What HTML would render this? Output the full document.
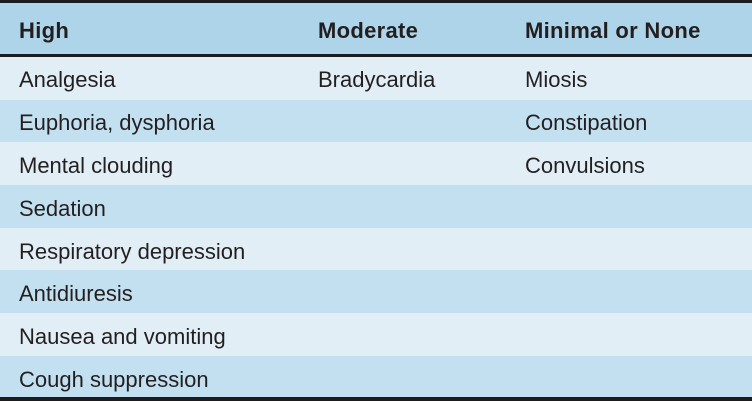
<!DOCTYPE html>
<html><head><style>
body{margin:0;width:752px;height:401px;overflow:hidden;background:#fff;font-family:"Liberation Sans",sans-serif;}
.t{position:absolute;left:0;top:0;width:752px;height:401px;background:#c2e0f0;}
.k{position:absolute;left:0;width:752px;background:#1c1c1e;}
.h{position:absolute;left:0;top:3px;width:752px;height:51px;background:#add4e8;}
.r{position:absolute;left:0;width:752px;height:43px;}
.c{position:absolute;font-size:22px;color:#231f20;white-space:nowrap;}
.hb{font-weight:bold;font-size:22px;letter-spacing:0.3px;}
</style></head><body>
<div class="t">
<div class="k" style="top:0;height:3px"></div>
<div class="h">
<span class="c hb" style="left:19px;top:15px">High</span>
<span class="c hb" style="left:318px;top:15px">Moderate</span>
<span class="c hb" style="left:525px;top:15px">Minimal or None</span>
</div>
<div class="k" style="top:54px;height:3px"></div>
<div class="r" style="top:57px;background:#e1eef6"><span class="c" style="left:19px;top:10px">Analgesia</span><span class="c" style="left:318px;top:10px">Bradycardia</span><span class="c" style="left:525px;top:10px">Miosis</span></div>
<div class="r" style="top:100px;background:#c2e0f0"><span class="c" style="left:19px;top:10px">Euphoria, dysphoria</span><span class="c" style="left:525px;top:10px">Constipation</span></div>
<div class="r" style="top:142px;background:#e1eef6"><span class="c" style="left:19px;top:11px">Mental clouding</span><span class="c" style="left:525px;top:11px">Convulsions</span></div>
<div class="r" style="top:185px;background:#c2e0f0"><span class="c" style="left:19px;top:11px">Sedation</span></div>
<div class="r" style="top:228px;background:#e1eef6"><span class="c" style="left:19px;top:11px">Respiratory depression</span></div>
<div class="r" style="top:270px;background:#c2e0f0"><span class="c" style="left:19px;top:11px">Antidiuresis</span></div>
<div class="r" style="top:313px;background:#e1eef6"><span class="c" style="left:19px;top:11px">Nausea and vomiting</span></div>
<div class="r" style="top:356px;background:#c2e0f0;height:41px"><span class="c" style="left:19px;top:11px">Cough suppression</span></div>
<div class="k" style="top:397px;height:4px"></div>
</div>
</body></html>
